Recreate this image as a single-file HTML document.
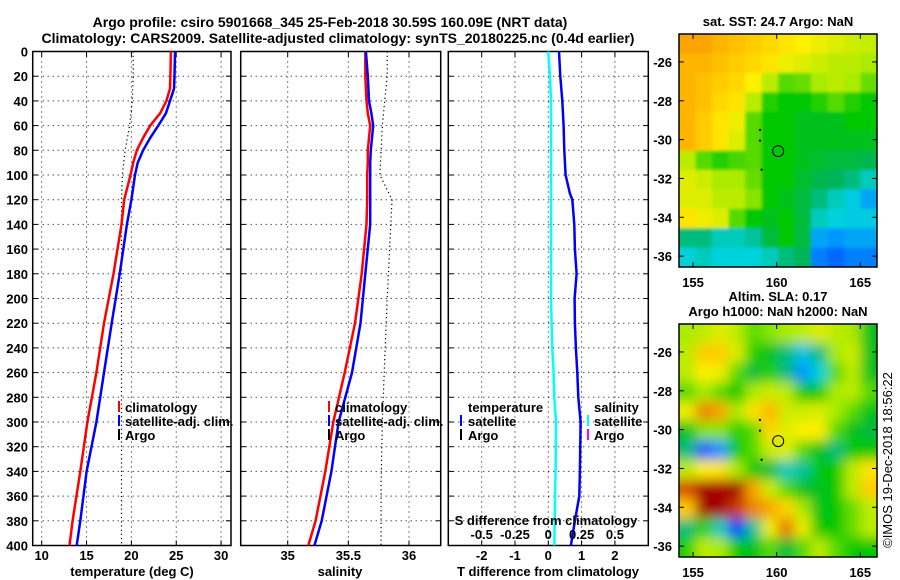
<!DOCTYPE html>
<html><head><meta charset="utf-8">
<style>
html,body{margin:0;padding:0;background:#fff;}
svg{display:block;font-family:"Liberation Sans",sans-serif;font-weight:bold;}
text{font-size:13px;fill:#000;}
</style></head>
<body>
<svg id="fig" width="900" height="580" viewBox="0 0 900 580">
<defs>
<clipPath id="clipSST"><rect x="679" y="34" width="198" height="233"/></clipPath>
<clipPath id="clipSLA"><rect x="679" y="324" width="198" height="233"/></clipPath>
<filter id="blurSLA" x="-10%" y="-10%" width="120%" height="120%"><feGaussianBlur stdDeviation="6"/></filter>
<filter id="blurSST"><feGaussianBlur stdDeviation="1.5"/></filter>
</defs>
<text x="330" y="27" text-anchor="middle" style="font-size:14px">Argo profile: csiro 5901668_345 25-Feb-2018 30.59S 160.09E (NRT data)</text>
<text x="338" y="43" text-anchor="middle" style="font-size:14px">Climatology: CARS2009. Satellite-adjusted climatology: synTS_20180225.nc (0.4d earlier)</text>
<text x="778" y="26" text-anchor="middle">sat. SST: 24.7 Argo: NaN</text>
<text x="778" y="301" text-anchor="middle">Altim. SLA: 0.17</text>
<text x="778" y="316" text-anchor="middle">Argo h1000: NaN h2000: NaN</text>
<text transform="translate(892,460) rotate(-90)" text-anchor="middle" style="font-weight:normal;font-size:13px">©IMOS 19-Dec-2018 18:56:22</text>
<g id="g"></g>
</svg>
<script>
// ---------- data ----------
const depths      = [0,20,30,40,50,60,70,80,90,100,120,140,180,220,260,300,340,380,400];
const tempClim    = [24.4,24.35,24.3,23.9,23.2,22.1,21.3,20.6,20.2,19.9,19.2,18.9,18.0,16.95,16.1,15.1,14.3,13.45,13.1];
const tempSat     = [24.86,24.8,24.75,24.3,23.85,23.0,22.1,21.3,20.7,20.4,20.0,19.5,18.7,17.8,16.95,16.1,15.0,14.3,13.9];
const argoDepths  = [0,20,40,60,80,100,120,160,200,250,300,350,400];
const tempArgo    = [20.2,20.2,20.1,19.8,19.3,19.0,18.9,18.9,18.9,18.9,18.9,18.9,18.9];
const salClim     = [35.64,35.64,35.645,35.65,35.66,35.68,35.67,35.66,35.66,35.655,35.655,35.65,35.61,35.555,35.47,35.376,35.31,35.23,35.17];
const salSat      = [35.645,35.66,35.665,35.67,35.69,35.705,35.695,35.685,35.68,35.68,35.68,35.68,35.64,35.6,35.53,35.42,35.36,35.28,35.22];
const salArgo     = [35.82,35.82,35.8,35.78,35.77,35.76,35.86,35.84,35.82,35.8,35.78,35.77,35.77];
const diffDepths  = [0,20,40,60,80,100,115,120,140,160,180,200,220,240,260,280,300,340,360,380,400];
const tDiffSat    = [0.32,0.36,0.42,0.46,0.48,0.52,0.65,0.72,0.78,0.8,0.85,0.79,0.8,0.83,0.87,0.9,0.97,0.95,0.93,0.8,0.68];
const sDiffSat    = [0.0,0.012,0.02,0.02,0.02,0.02,0.02,0.02,0.02,0.02,0.02,0.02,0.025,0.03,0.04,0.045,0.058,0.055,0.05,0.048,0.045];
const depthTicks  = [0,20,40,60,80,100,120,140,160,180,200,220,240,260,280,300,320,340,360,380,400];
const tempTicks   = [10,15,20,25,30];
const salTicks    = [35,35.5,36];
const salTickLabels = ["35","35.5","36"];
const tDiffTicks  = [-2,-1,0,1,2];
const sDiffTicks  = [-0.5,-0.25,0,0.25,0.5];
const lonTicks    = [155,160,165];
const latTicks    = [-26,-28,-30,-32,-34,-36];
const profileLon = 160.09, profileLat = -30.59;
const markLon = [159.0,159.0,159.1], markLat = [-29.5,-30.05,-31.55];
const sstGrid = [
[.82,.82,.8,.78,.76,.74,.72,.7,.68,.66,.64,.63],
[.8,.8,.78,.76,.74,.72,.68,.66,.64,.62,.62,.6],
[.8,.78,.76,.74,.7,.62,.55,.56,.6,.62,.6,.56],
[.8,.78,.74,.72,.62,.52,.5,.5,.52,.55,.52,.5],
[.8,.76,.72,.68,.55,.5,.5,.48,.48,.48,.5,.5],
[.8,.76,.72,.66,.55,.5,.5,.48,.48,.48,.48,.48],
[.62,.55,.52,.54,.55,.5,.5,.48,.47,.46,.46,.45],
[.66,.64,.6,.6,.56,.5,.5,.47,.45,.44,.42,.38],
[.66,.66,.62,.62,.58,.5,.48,.46,.42,.38,.35,.3],
[.72,.68,.66,.55,.5,.48,.5,.46,.38,.36,.35,.35],
[.42,.42,.38,.38,.4,.46,.5,.46,.3,.28,.3,.3],
[.36,.38,.36,.36,.36,.38,.42,.44,.25,.22,.25,.25]];
const slaGrid = [
[.6,.62,.66,.62,.55,.58,.6,.62,.66,.62,.6,.48],
[.62,.76,.76,.66,.52,.48,.42,.34,.42,.6,.64,.48],
[.62,.7,.68,.55,.46,.52,.42,.28,.36,.55,.62,.48],
[.55,.6,.55,.5,.6,.64,.62,.5,.5,.6,.62,.55],
[.68,.86,.82,.6,.72,.8,.64,.64,.66,.6,.55,.48],
[.48,.58,.58,.52,.55,.74,.66,.7,.7,.55,.48,.46],
[.42,.2,.28,.5,.55,.64,.66,.55,.48,.42,.5,.5],
[.62,.7,.72,.6,.5,.46,.38,.4,.5,.5,.62,.72],
[.92,1,1,1,.82,.64,.55,.48,.48,.5,.62,.76],
[.76,1,1,.94,.86,.82,.74,.6,.48,.5,.56,.62],
[.42,.52,.38,.15,.4,.68,.88,.68,.5,.5,.56,.62],
[.52,.62,.6,.5,.48,.55,.46,.55,.62,.55,.5,.5]];

// ---------- helpers ----------
const NS="http://www.w3.org/2000/svg";
const G=document.getElementById('g');
function mk(tag,attrs,parent){const e=document.createElementNS(NS,tag);for(const k in attrs)e.setAttribute(k,attrs[k]);(parent||G).appendChild(e);return e;}
const yDepth = d => 51.5 + d*1.235;
const xTemp = t => 41.7 + (t-10)*8.97;
const xSal = s => 287.7 + (s-35)*121.3;
const xTD = v => 548.3 + v*33.3;
const xSD = v => 548.3 + v*133.3;
const LON0=154.16, LON1=166.0, LAT0=-24.56, LAT1=-36.56;
const xLon = l => 679 + (l-LON0)/(LON1-LON0)*198;
const yLat = (l,top) => top + (l-LAT0)/(LAT1-LAT0)*233;

function panel(x0,x1,xTicks,xFn,name){
  const g=mk('g',{});
  
  
  depthTicks.forEach(d=>{
    const y=yDepth(d);
    if(d>0&&d<400){const l=mk('line',{x1:x0,x2:x1,y1:y,y2:y,stroke:'#000','stroke-width':1,'stroke-dasharray':'1,4'},g);
      }
    mk('line',{x1:x0,x2:x0+5,y1:y,y2:y,stroke:'#000'},g);
    mk('line',{x1:x1-5,x2:x1,y1:y,y2:y,stroke:'#000'},g);
  });
  xTicks.forEach(v=>{
    const x=xFn(v);
    const l=mk('line',{x1:x,x2:x,y1:yDepth(0),y2:yDepth(400),stroke:'#000','stroke-width':1,'stroke-dasharray':'1,4'},g);
    
    mk('line',{x1:x,x2:x,y1:yDepth(400)-5,y2:yDepth(400),stroke:'#000'},g);
    mk('line',{x1:x,x2:x,y1:yDepth(0),y2:yDepth(0)+5,stroke:'#000'},g);
  });
  const r=mk('rect',{x:x0,y:yDepth(0),width:x1-x0,height:yDepth(400)-yDepth(0),fill:'none',stroke:'#000','stroke-width':1.5},g);
  
  return g;
}
function line(xs,ds,fn,color,w,name,dash){
  const pts=xs.map((v,i)=>fn(v).toFixed(1)+','+yDepth(ds[i]).toFixed(1)).join(' ');
  const p=mk('polyline',{points:pts,fill:'none',stroke:color,'stroke-width':w});
  if(dash)p.setAttribute('stroke-dasharray',dash);
  
  
}
function txt(x,y,s,anchor,name,size){
  const t=mk('text',{x:x,y:y,'text-anchor':anchor||'start'});
  if(size)t.style.fontSize=size+'px';
  t.textContent=s;
  
  
  return t;
}
function legendMark(x,y,color,name){
  const l=mk('line',{x1:x,x2:x,y1:y-6,y2:y+5,stroke:color,'stroke-width':2});
  
  
}

// ---------- panel 1 temperature ----------
panel(32.7,231,tempTicks,xTemp,'temperature-panel');
line(tempArgo,argoDepths,xTemp,'#000',1.2,'argo-temperature-line','1.2,3');
line(tempClim,depths,xTemp,'#ff0000',2.5,'climatology-temperature-line');
line(tempSat,depths,xTemp,'#0000ff',2.5,'satellite-temperature-line');
depthTicks.forEach(d=>txt(28,yDepth(d)+5,String(d),'end','depth-tick-label'));
tempTicks.forEach(v=>txt(xTemp(v),560,String(v),'middle','temperature-tick-label'));
txt(132,576,'temperature (deg C)','middle','temperature-axis-title');
legendMark(119,407,'#ff0000','legend-climatology-mark');txt(125,412,'climatology','start','legend-climatology');
legendMark(119,421,'#0000ff','legend-satellite-mark');txt(125,426,'satellite-adj. clim.','start','legend-satellite');
legendMark(119,435,'#000','legend-argo-mark');txt(125,440,'Argo','start','legend-argo');

// ---------- panel 2 salinity ----------
panel(240.7,440.7,salTicks,xSal,'salinity-panel');
line(salArgo,argoDepths,xSal,'#000',1.2,'argo-salinity-line','1.2,3');
line(salClim,depths,xSal,'#ff0000',2.5,'climatology-salinity-line');
line(salSat,depths,xSal,'#0000ff',2.5,'satellite-salinity-line');
salTicks.forEach((v,i)=>txt(xSal(v),560,salTickLabels[i],'middle','salinity-tick-label'));
txt(340,576,'salinity','middle','salinity-axis-title');
legendMark(329,407,'#ff0000','legend-climatology-mark-2');txt(335,412,'climatology','start','legend-climatology-2');
legendMark(329,421,'#0000ff','legend-satellite-mark-2');txt(335,426,'satellite-adj. clim.','start','legend-satellite-2');
legendMark(329,435,'#000','legend-argo-mark-2');txt(335,440,'Argo','start','legend-argo-2');

// ---------- panel 3 differences ----------
panel(448.3,648.3,tDiffTicks,xTD,'difference-panel');
line(sDiffSat,diffDepths,xSD,'#00ffff',2.5,'salinity-difference-line');
line(tDiffSat,diffDepths,xTD,'#0000ff',2.5,'temperature-difference-line');
tDiffTicks.forEach(v=>txt(xTD(v),560,String(v),'middle','t-diff-tick-label'));
txt(548,576,'T difference from climatology','middle','t-diff-axis-title');
txt(546,525,'S difference from climatology','middle','s-diff-axis-title');
sDiffTicks.forEach(v=>txt(xTD(v*4),539,String(v),'middle','s-diff-tick-label'));
txt(468,412,'temperature','start','legend-temperature-header');
legendMark(461,421,'#0000ff','legend-t-satellite-mark');txt(468,426,'satellite','start','legend-t-satellite');
legendMark(461,435,'#000','legend-t-argo-mark');txt(468,440,'Argo','start','legend-t-argo');
txt(594,412,'salinity','start','legend-salinity-header');
legendMark(588,421,'#00ffff','legend-s-satellite-mark');txt(594,426,'satellite','start','legend-s-satellite');
legendMark(588,435,'#ff00ff','legend-s-argo-mark');txt(594,440,'Argo','start','legend-s-argo');

// ---------- maps ----------
const cstops=[[0,[0,0,140]],[.15,[0,50,255]],[.28,[0,150,255]],[.36,[0,210,220]],[.44,[0,180,90]],[.5,[0,200,0]],[.6,[170,235,0]],[.7,[255,240,0]],[.8,[255,180,0]],[.9,[225,100,0]],[1,[165,0,0]]];
function cmap(v){
  v=Math.max(0,Math.min(1,v));
  for(let i=1;i<cstops.length;i++){if(v<=cstops[i][0]){const a=cstops[i-1],b=cstops[i];const f=(v-a[0])/(b[0]-a[0]);
    const c=a[1].map((q,k)=>Math.round(q+(b[1][k]-q)*f));return `rgb(${c[0]},${c[1]},${c[2]})`;}}
  return 'rgb(165,0,0)';
}
function map(grid,top,clip,filt,name,pad){
  const g=mk('g',{'clip-path':`url(#${clip})`});
  
  
  const inner=mk('g',{filter:`url(#${filt})`},g);
  const nr=grid.length,nc=grid[0].length;
  const dLon=(LON1-LON0)/nc,dLat=(LAT1-LAT0)/nr;
  grid.forEach((row,r)=>row.forEach((v,c)=>{
    let x0=xLon(LON0+c*dLon),x1=xLon(LON0+(c+1)*dLon),y0=yLat(LAT0+r*dLat,top),y1=yLat(LAT0+(r+1)*dLat,top);
    if(c===0)x0-=pad; if(c===nc-1)x1+=pad; if(r===0)y0-=pad; if(r===nr-1)y1+=pad;
    const cell=mk('rect',{x:x0.toFixed(1),y:y0.toFixed(1),width:(x1-x0+0.6).toFixed(1),height:(y1-y0+0.6).toFixed(1),fill:cmap(v)},inner);
    
    
  }));
  const fr=mk('rect',{x:679,y:top,width:198,height:233,fill:'none',stroke:'#000','stroke-width':1.5});
  
  latTicks.forEach(l=>{const y=yLat(l,top);
    mk('line',{x1:679,x2:684,y1:y,y2:y,stroke:'#000'});mk('line',{x1:872,x2:877,y1:y,y2:y,stroke:'#000'});
    txt(672,y+5,String(l),'end','latitude-tick-label');});
  lonTicks.forEach(l=>{const x=xLon(l);
    mk('line',{x1:x,x2:x,y1:top,y2:top+5,stroke:'#000'});mk('line',{x1:x,x2:x,y1:top+228,y2:top+233,stroke:'#000'});
    txt(x,top+253,String(l),'middle','longitude-tick-label');});
  const circ=mk('circle',{cx:xLon(profileLon),cy:yLat(profileLat,top),r:5.5,fill:'none',stroke:'#000','stroke-width':1});
  
  markLon.forEach((l,i)=>{const m=mk('rect',{x:xLon(l)-1,y:yLat(markLat[i],top)-1,width:2,height:2,fill:'#000'});
    });
}
map(sstGrid,34,'clipSST','blurSST','sst-map',3);
map(slaGrid,324,'clipSLA','blurSLA','sla-map',20);
</script>
</body></html>
